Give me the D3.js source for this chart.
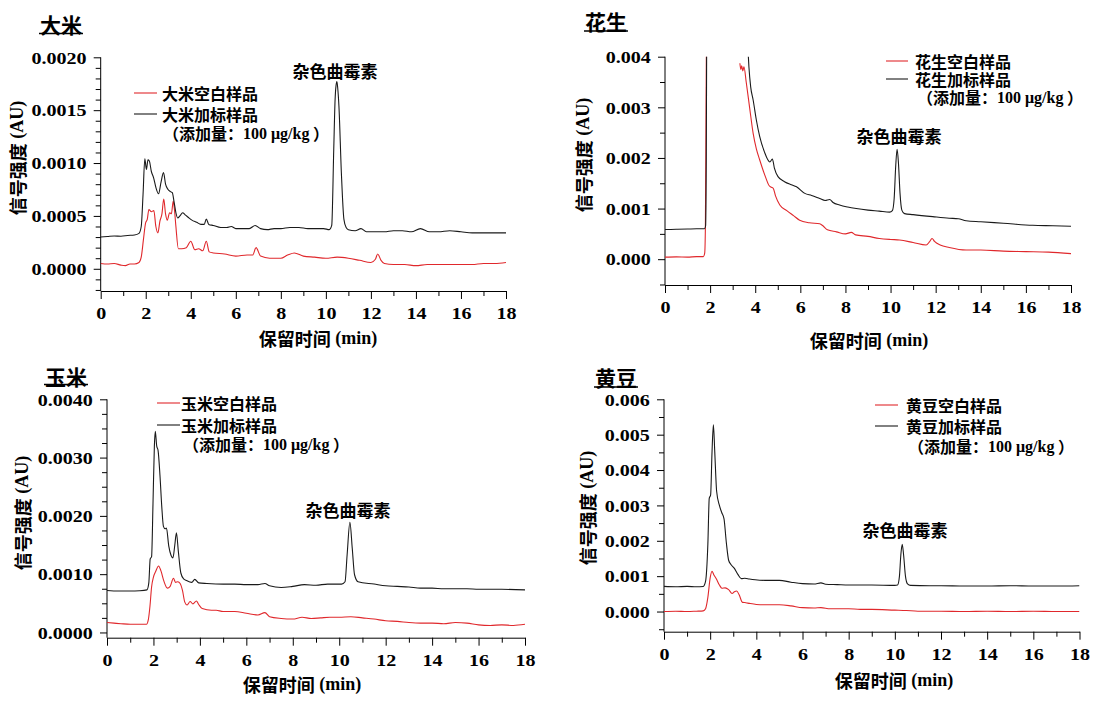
<!DOCTYPE html>
<html>
<head>
<meta charset="utf-8">
<script src="https://cdn.jsdelivr.net/npm/d3@7"></script>
<style>
  html, body { margin: 0; padding: 0; background: #ffffff; }
  svg { display: block; }
</style>
</head>
<body>
<svg id="chart" width="1113" height="704"></svg>
<script>
// ---------------- DATA ----------------
const xMajorTicks = [0, 2, 4, 6, 8, 10, 12, 14, 16, 18];
const xMinorTicks = [1, 3, 5, 7, 9, 11, 13, 15, 17];

const panelTitles = ["大米", "花生", "玉米", "黄豆"];
const blankLabels = ["大米空白样品", "花生空白样品", "玉米空白样品", "黄豆空白样品"];
const spikedLabels = ["大米加标样品", "花生加标样品", "玉米加标样品", "黄豆加标样品"];
const peakLabel = "杂色曲霉素";

const riceYTicks = [0, 0.0005, 0.0010, 0.0015, 0.0020];
const riceYMinor = [-0.0002, -0.0001, 0.0001, 0.0002, 0.0003, 0.0004, 0.0006, 0.0007, 0.0008, 0.0009, 0.0011, 0.0012, 0.0013, 0.0014, 0.0016, 0.0017, 0.0018, 0.0019];
const peanutYTicks = [0, 0.001, 0.002, 0.003, 0.004];
const peanutYMinor = [-0.0005, 0.0005, 0.0015, 0.0025, 0.0035];
const cornYTicks = [0, 0.0010, 0.0020, 0.0030, 0.0040];
const cornYMinor = [0.00025, 0.0005, 0.00075, 0.00125, 0.0015, 0.00175, 0.00225, 0.0025, 0.00275, 0.00325, 0.0035, 0.00375];
const soyYTicks = [0, 0.001, 0.002, 0.003, 0.004, 0.005, 0.006];
const soyYMinor = [-0.0005, 0.0005, 0.0015, 0.0025, 0.0035, 0.0045, 0.0055];

// [retention time (min), signal (AU)]
const riceBlank = [[0,0.00005],[0.3,0.000045],[0.6,0.00005],[0.9,0.000035],[1.1,0.00003],[1.3,0.000045],[1.5,0.000045],[1.7,0.00006],[1.8,0.00011],[1.9,0.00028],[1.99,0.00043],[2.07,0.00047],[2.14,0.00056],[2.25,0.00054],[2.36,0.00055],[2.45,0.00040],[2.54,0.00034],[2.63,0.00045],[2.72,0.00052],[2.8,0.00066],[2.88,0.00052],[2.96,0.00046],[3.06,0.00053],[3.14,0.00052],[3.22,0.00064],[3.28,0.00055],[3.34,0.00040],[3.45,0.00019],[3.6,0.00019],[3.8,0.00020],[4.0,0.00026],[4.18,0.00018],[4.35,0.00019],[4.53,0.00017],[4.69,0.00026],[4.82,0.00016],[5.0,0.00015],[5.5,0.00014],[6.0,0.00012],[6.5,0.00013],[6.75,0.00013],[6.9,0.00020],[7.1,0.00012],[7.5,0.00010],[8.0,0.00010],[8.3,0.00013],[8.6,0.00015],[9.0,0.00012],[9.5,0.00011],[10.0,0.00010],[10.5,0.00011],[11.0,0.00010],[11.5,0.00008],[12.0,0.00006],[12.2,0.00009],[12.3,0.00014],[12.45,0.00008],[12.6,0.00005],[13.0,0.00004],[13.5,0.00004],[14.0,0.00003],[14.5,0.00004],[15.0,0.00004],[15.5,0.00004],[16.0,0.00004],[16.5,0.00004],[17.0,0.00005],[17.5,0.00005],[18.0,0.00006]];
const riceSpiked = [[0,0.00030],[0.3,0.000305],[0.6,0.00031],[0.9,0.000308],[1.2,0.000315],[1.5,0.00032],[1.7,0.000335],[1.8,0.00040],[1.88,0.00070],[1.96,0.00104],[2.03,0.00094],[2.1,0.00103],[2.16,0.00102],[2.25,0.00092],[2.35,0.00086],[2.45,0.00077],[2.57,0.00071],[2.68,0.00082],[2.79,0.00091],[2.88,0.00080],[2.99,0.00075],[3.1,0.00073],[3.18,0.00072],[3.26,0.00063],[3.34,0.00053],[3.42,0.00048],[3.52,0.00050],[3.64,0.00053],[3.75,0.00051],[3.87,0.00049],[4.05,0.00046],[4.26,0.00044],[4.45,0.00042],[4.6,0.00042],[4.69,0.00047],[4.8,0.00042],[5.0,0.00041],[5.33,0.00039],[5.6,0.00039],[5.8,0.00040],[6.0,0.00038],[6.3,0.00038],[6.6,0.00038],[6.86,0.00041],[7.1,0.00038],[7.4,0.00037],[7.7,0.00038],[8.0,0.00038],[8.4,0.00039],[8.8,0.00039],[9.2,0.00038],[9.6,0.00038],[9.9,0.00038],[10.15,0.00037],[10.26,0.00041],[10.35,0.00113],[10.41,0.00160],[10.45,0.00173],[10.49,0.00177],[10.53,0.00170],[10.58,0.00154],[10.69,0.00090],[10.8,0.00047],[10.9,0.00039],[11.0,0.00037],[11.3,0.00036],[11.56,0.00038],[11.8,0.00035],[12.2,0.00035],[12.6,0.00035],[13.0,0.00036],[13.4,0.00036],[13.8,0.00035],[14.2,0.00038],[14.6,0.00035],[15.0,0.00035],[15.5,0.00036],[16.0,0.00035],[16.5,0.00034],[17.0,0.00034],[17.5,0.00034],[18.0,0.00034]];

const peanutBlank = [[0,0.00004],[0.5,0.000045],[1.0,0.00004],[1.4,0.00005],[1.7,0.00005],[1.76,0.00012],[1.79,0.0006],[1.82,0.0030],[1.84,0.0046],[2.6,null],[3.32,0.00387],[3.36,0.00375],[3.4,0.00382],[3.45,0.00372],[3.5,0.0038],[3.6,0.0035],[3.75,0.0030],[3.91,0.00248],[4.05,0.00218],[4.2,0.00196],[4.45,0.00163],[4.62,0.00145],[4.72,0.00142],[4.8,0.00140],[4.9,0.00125],[5.09,0.00107],[5.4,0.00096],[5.7,0.00086],[5.97,0.00077],[6.4,0.00072],[6.86,0.00070],[7.0,0.00066],[7.2,0.00058],[7.6,0.00054],[8.0,0.00050],[8.26,0.00053],[8.45,0.00048],[9.0,0.00045],[9.5,0.00041],[10.0,0.00039],[10.4,0.00038],[11.0,0.00033],[11.58,0.00028],[11.72,0.00034],[11.84,0.00041],[11.95,0.00035],[12.2,0.00028],[12.6,0.00023],[13.35,0.00018],[14.0,0.00018],[15.0,0.00016],[16.0,0.00015],[17.0,0.00014],[18.0,0.00011]];
const peanutSpiked = [[0,0.000585],[0.5,0.00059],[1.0,0.000595],[1.4,0.0006],[1.75,0.0006],[1.8,0.00066],[1.83,0.0020],[1.85,0.0046],[2.6,null],[3.66,0.0043],[3.72,0.0038],[3.8,0.0034],[3.91,0.00314],[4.05,0.00275],[4.2,0.00242],[4.4,0.00213],[4.65,0.00192],[4.76,0.00198],[4.85,0.00180],[5.01,0.00163],[5.3,0.00153],[5.6,0.00147],[5.83,0.00143],[6.2,0.00130],[6.5,0.00126],[6.86,0.00120],[7.1,0.00116],[7.3,0.00118],[7.45,0.00112],[7.74,0.00107],[8.1,0.00103],[8.48,0.00100],[9.0,0.00097],[9.5,0.00095],[9.96,0.00093],[10.08,0.00096],[10.16,0.00120],[10.23,0.00185],[10.29,0.00217],[10.35,0.00190],[10.42,0.00130],[10.5,0.00097],[10.62,0.00090],[11.0,0.00088],[11.87,0.00084],[12.6,0.00081],[13.0,0.00080],[13.35,0.00076],[14.0,0.00074],[15.0,0.00071],[16.3,0.00067],[17.2,0.00066],[18.0,0.00065]];

const cornBlank = [[0,0.00017],[0.3,0.00016],[0.6,0.00015],[1.0,0.00014],[1.4,0.00014],[1.7,0.00014],[1.78,0.00022],[1.85,0.00045],[1.92,0.00078],[2.0,0.00095],[2.1,0.00105],[2.22,0.00114],[2.32,0.00106],[2.45,0.00088],[2.6,0.00076],[2.72,0.00079],[2.86,0.00093],[2.95,0.00086],[3.05,0.00087],[3.15,0.00084],[3.25,0.00072],[3.35,0.00052],[3.45,0.00047],[3.58,0.00053],[3.7,0.00049],[3.85,0.00054],[3.95,0.00048],[4.1,0.00041],[4.5,0.00038],[4.7,0.00038],[5.0,0.00036],[5.5,0.00036],[6.0,0.00033],[6.5,0.00030],[6.8,0.00034],[7.0,0.00027],[7.5,0.00024],[8.0,0.00023],[8.4,0.00026],[8.8,0.00024],[9.2,0.00025],[9.6,0.00026],[10.0,0.00026],[10.5,0.00027],[11.0,0.00025],[11.5,0.00023],[12.0,0.00020],[12.5,0.00019],[13.0,0.00017],[13.5,0.00016],[14.0,0.00016],[14.5,0.00015],[15.0,0.00017],[15.5,0.00016],[16.0,0.00013],[16.5,0.00012],[17.0,0.00013],[17.5,0.00012],[18.0,0.00014]];
const cornSpiked = [[0,0.00072],[0.5,0.00071],[1.0,0.00071],[1.4,0.000715],[1.72,0.00073],[1.8,0.00085],[1.86,0.00126],[1.92,0.0013],[1.98,0.0022],[2.04,0.0032],[2.08,0.00345],[2.14,0.00320],[2.2,0.00312],[2.28,0.00270],[2.36,0.00215],[2.43,0.00182],[2.5,0.00178],[2.56,0.00179],[2.66,0.00148],[2.76,0.00132],[2.84,0.00128],[2.92,0.00150],[2.99,0.00171],[3.07,0.00140],[3.18,0.00102],[3.3,0.00092],[3.43,0.00089],[3.65,0.00086],[3.78,0.00091],[3.95,0.00085],[4.3,0.00084],[5.0,0.00083],[5.5,0.00083],[6.0,0.00082],[6.5,0.00082],[6.8,0.00084],[7.0,0.00080],[7.5,0.00077],[8.0,0.00079],[8.5,0.00082],[9.0,0.00081],[9.5,0.00083],[10.1,0.00083],[10.25,0.00087],[10.34,0.00133],[10.46,0.00189],[10.56,0.00145],[10.66,0.00099],[10.81,0.00087],[11.5,0.00083],[12.0,0.00080],[12.5,0.00079],[13.0,0.00078],[13.5,0.00076],[14.0,0.00076],[14.5,0.00075],[15.0,0.00075],[15.5,0.00075],[16.0,0.00074],[17.0,0.00074],[18.0,0.00073]];

const soyBlank = [[0,0.0],[0.5,0.00001],[1.0,0.0],[1.4,0.00001],[1.7,0.00002],[1.8,0.00008],[1.9,0.0004],[2.0,0.00095],[2.08,0.00114],[2.15,0.00105],[2.27,0.00092],[2.4,0.00075],[2.51,0.00066],[2.65,0.00067],[2.8,0.00062],[2.95,0.00051],[3.05,0.00056],[3.15,0.00058],[3.25,0.00048],[3.4,0.00026],[3.55,0.00025],[3.7,0.00023],[4.0,0.00020],[4.5,0.00019],[5.0,0.00019],[5.5,0.00016],[6.0,0.00011],[6.5,0.00010],[6.8,0.00011],[7.2,0.00008],[8.0,0.00008],[8.5,0.00006],[9.0,0.00006],[10.0,0.00004],[10.5,0.00003],[11.0,0.00001],[12.0,0.00001],[13.0,0.0],[14.0,0.00001],[15.0,0.0],[16.0,0.00001],[17.0,0.0],[18.0,0.0]];
const soySpiked = [[0,0.00071],[0.5,0.0007],[1.0,0.00071],[1.4,0.0007],[1.7,0.00071],[1.8,0.00085],[1.9,0.0019],[1.96,0.0032],[2.02,0.0033],[2.08,0.0045],[2.14,0.00528],[2.2,0.0045],[2.28,0.0034],[2.4,0.0030],[2.5,0.00280],[2.6,0.00262],[2.7,0.00195],[2.8,0.00145],[2.9,0.00133],[3.05,0.00122],[3.2,0.00105],[3.35,0.00093],[3.5,0.00094],[3.7,0.00092],[3.95,0.00090],[4.5,0.00088],[5.0,0.00088],[5.5,0.00083],[6.0,0.00079],[6.5,0.00078],[6.8,0.00081],[7.0,0.00077],[7.5,0.00076],[8.0,0.00075],[9.0,0.00075],[10.0,0.00074],[10.12,0.00075],[10.2,0.0010],[10.26,0.0016],[10.32,0.0019],[10.38,0.0016],[10.46,0.0010],[10.55,0.00078],[10.68,0.00074],[11.5,0.00073],[12.0,0.00073],[13.0,0.00072],[14.0,0.00072],[15.0,0.00073],[16.0,0.00072],[17.0,0.00072],[18.0,0.00073]];

// ---------------- LAYOUT ----------------
const CJK = "'Noto Sans CJK SC', 'Noto Sans CJK JP', sans-serif";
const SERIF = "'Liberation Serif', 'Times New Roman', serif";
const RED = "#e0282c";
const BLACK = "#1a1a1a";
const STRETCH = 1.18; // horizontal stretch of numeric labels in the reference

const panels = [
  { title: 0, blank: riceBlank, spiked: riceSpiked, yTicks: riceYTicks, yMinor: riceYMinor, fmt: ".4f",
    x0: 100.7, x1: 506, yTop: 57.3, yBot: 291, yMin: -0.00021, yMax: 0.0020,
    titleX: 40, titleY: 24, ulY: 33.5, yLab: [17, 158], xLab: [318, 338], note: [335, 70],
    leg: { lx0: 134, lx1: 157, y1: 93, y2: 114, y3: 133, tx: 162, tx3: 163 } },
  { title: 1, blank: peanutBlank, spiked: peanutSpiked, yTicks: peanutYTicks, yMinor: peanutYMinor, fmt: ".3f",
    x0: 665, x1: 1071, yTop: 56.7, yBot: 285, yMin: -0.00051, yMax: 0.004,
    titleX: 585, titleY: 21, ulY: 31, yLab: [583, 155], xLab: [869, 340], note: [899, 135],
    leg: { lx0: 886, lx1: 908, y1: 61, y2: 79, y3: 97, tx: 915, tx3: 917 } },
  { title: 2, blank: cornBlank, spiked: cornSpiked, yTicks: cornYTicks, yMinor: cornYMinor, fmt: ".4f",
    x0: 107, x1: 525, yTop: 399.3, yBot: 637.7, yMin: -0.00009, yMax: 0.004,
    titleX: 45, titleY: 376, ulY: 384.5, yLab: [22, 513], xLab: [302, 684], note: [348, 509],
    leg: { lx0: 157, lx1: 180, y1: 403, y2: 425, y3: 444, tx: 181, tx3: 183 } },
  { title: 3, blank: soyBlank, spiked: soySpiked, yTicks: soyYTicks, yMinor: soyYMinor, fmt: ".3f",
    x0: 664, x1: 1079.5, yTop: 399.3, yBot: 631.7, yMin: -0.00057, yMax: 0.006,
    titleX: 595, titleY: 377, ulY: 387, yLab: [587, 508], xLab: [894, 680], note: [905, 529],
    leg: { lx0: 875, lx1: 898, y1: 405, y2: 426, y3: 446, tx: 906, tx3: 908 } }
];

const svg = d3.select("#chart");

function mixed(g, x, y, parts, anchor, size) {
  const t = g.append("text").attr("x", x).attr("y", y)
    .attr("text-anchor", anchor).attr("dominant-baseline", "central")
    .attr("font-size", size).attr("fill", "#000");
  parts.forEach(p => {
    t.append("tspan").text(p.t)
      .attr("font-family", p.serif ? SERIF : CJK)
      .attr("font-weight", p.w || "bold");
  });
  return t;
}

panels.forEach((p, i) => {
  const g = svg.append("g");
  const x = d3.scaleLinear().domain([0, 18]).range([p.x0, p.x1]);
  const y = d3.scaleLinear().domain([p.yMin, p.yMax]).range([p.yBot, p.yTop]);

  svg.append("clipPath").attr("id", "clip" + i).append("rect")
    .attr("x", p.x0).attr("y", p.yTop).attr("width", p.x1 - p.x0).attr("height", p.yBot - p.yTop);

  // minor ticks
  g.append("g").attr("transform", `translate(0,${p.yBot})`)
    .call(d3.axisBottom(x).tickValues(xMinorTicks).tickSize(5).tickSizeOuter(0).tickFormat(""))
    .call(a => a.select(".domain").remove());
  g.append("g").attr("transform", `translate(${p.x0},0)`)
    .call(d3.axisLeft(y).tickValues(p.yMinor).tickSize(5).tickSizeOuter(0).tickFormat(""))
    .call(a => a.select(".domain").remove());

  // major ticks + labels
  const xa = g.append("g").attr("transform", `translate(0,${p.yBot})`)
    .call(d3.axisBottom(x).tickValues(xMajorTicks).tickSize(8).tickSizeOuter(0).tickPadding(8).tickFormat(d3.format("d")));
  const ya = g.append("g").attr("transform", `translate(${p.x0},0)`)
    .call(d3.axisLeft(y).tickValues(p.yTicks).tickSize(7).tickSizeOuter(0).tickPadding(5).tickFormat(d3.format(p.fmt)));
  [xa, ya].forEach(a => {
    a.attr("font-family", SERIF).attr("font-size", 17);
    a.selectAll("text").attr("font-family", SERIF).attr("font-weight", "bold")
      .attr("font-size", 17).attr("fill", "#000")
      .attr("transform", `scale(${STRETCH},1)`);
    a.selectAll("line, path").attr("stroke", "#000").attr("stroke-width", 1);
  });
  ya.selectAll("text").attr("dy", "0.34em");
  ya.select(".domain").attr("d", `M0,${p.yBot}V${p.yTop}`);

  // curves
  const line = d3.line().defined(d => d[1] != null)
    .x(d => x(d[0])).y(d => y(d[1])).curve(d3.curveMonotoneX);
  const lg = g.append("g").attr("clip-path", `url(#clip${i})`);
  lg.append("path").datum(p.blank).attr("d", line).attr("fill", "none")
    .attr("stroke", RED).attr("stroke-width", 1.1);
  lg.append("path").datum(p.spiked).attr("d", line).attr("fill", "none")
    .attr("stroke", BLACK).attr("stroke-width", 1.1);

  // title with underline
  const tt = g.append("text").attr("x", p.titleX).attr("y", p.titleY)
    .attr("dominant-baseline", "central").attr("font-family", CJK)
    .attr("font-size", 21).attr("font-weight", "bold").text(panelTitles[p.title]);
  const tw = tt.node().getComputedTextLength();
  g.append("line").attr("x1", p.titleX - 1).attr("x2", p.titleX + tw + 1)
    .attr("y1", p.ulY).attr("y2", p.ulY).attr("stroke", "#000").attr("stroke-width", 1.3);

  // axis titles
  mixed(g, p.xLab[0], p.xLab[1], [{ t: "保留时间" }, { t: " (min)", serif: true }], "middle", 18);
  mixed(g, 0, 0, [{ t: "信号强度" }, { t: " (AU)", serif: true }], "middle", 18)
    .attr("transform", `translate(${p.yLab[0]},${p.yLab[1]}) rotate(-90)`);

  // peak annotation
  mixed(g, p.note[0], p.note[1], [{ t: peakLabel }], "middle", 17);

  // legend
  const L = p.leg;
  g.append("line").attr("x1", L.lx0).attr("x2", L.lx1).attr("y1", L.y1).attr("y2", L.y1)
    .attr("stroke", RED).attr("stroke-width", 1.1);
  g.append("line").attr("x1", L.lx0).attr("x2", L.lx1).attr("y1", L.y2).attr("y2", L.y2)
    .attr("stroke", BLACK).attr("stroke-width", 1.1);
  mixed(g, L.tx, L.y1, [{ t: blankLabels[p.title] }], "start", 16);
  mixed(g, L.tx, L.y2, [{ t: spikedLabels[p.title] }], "start", 16);
  mixed(g, L.tx3, L.y3, [{ t: "（添加量：" }, { t: "100 μg/kg", serif: true }, { t: " ）" }], "start", 16);
});
</script>
</body>
</html>
